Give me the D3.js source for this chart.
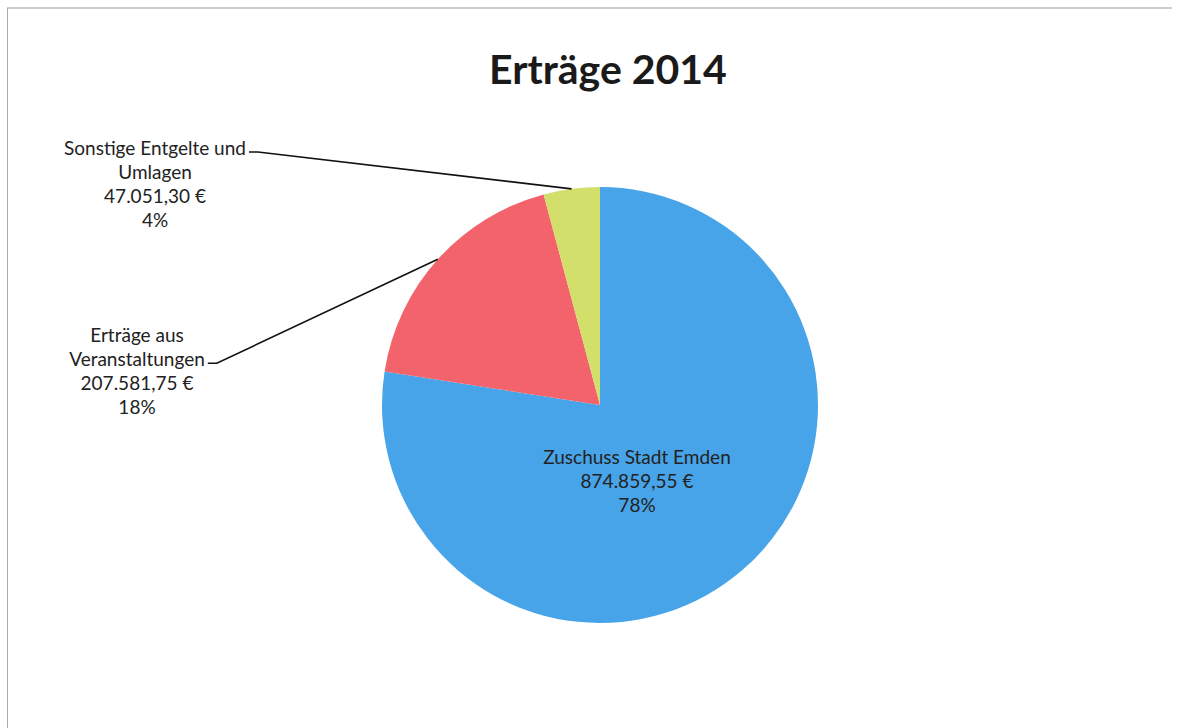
<!DOCTYPE html>
<html>
<head>
<meta charset="utf-8">
<script src="https://cdn.jsdelivr.net/npm/d3@7"></script>
<style>
  body { margin: 0; background: #fff; }
  svg { display: block; }
  .lbl { font-family: Lato, "Open Sans", sans-serif; font-size: 19px; fill: #222; }
</style>
</head>
<body>
<div id="chart"></div>
<script>
const categories = ['Zuschuss Stadt Emden', 'Erträge aus Veranstaltungen', 'Sonstige Entgelte und Umlagen'];
const labelLines = [
  ['Zuschuss Stadt Emden'],
  ['Erträge aus', 'Veranstaltungen'],
  ['Sonstige Entgelte und', 'Umlagen']
];
const values = [874859.55, 207581.75, 47051.30];
const valueLabels = ['874.859,55 €', '207.581,75 €', '47.051,30 €'];
const percentLabels = ['78%', '18%', '4%'];
const colors = ['#48a4e8', '#f2636c', '#d2df6b'];

const width = 1178;
const height = 728;
const cx = 600, cy = 405, radius = 218;

const svg = d3.select('#chart')
  .append('svg')
  .attr('width', width)
  .attr('height', height);

// scanned page frame (top + left edge only)
svg.append('line').attr('x1', 7).attr('x2', 1172).attr('y1', 8).attr('y2', 8)
  .attr('stroke', '#999').attr('stroke-width', 1.2);
svg.append('line').attr('x1', 7.5).attr('x2', 7.5).attr('y1', 8).attr('y2', height)
  .attr('stroke', '#aaa').attr('stroke-width', 1);

svg.append('text')
  .attr('x', 608)
  .attr('y', 84)
  .attr('text-anchor', 'middle')
  .style('font-family', 'Lato, "Open Sans", sans-serif')
  .style('font-weight', 'bold')
  .style('font-size', '41px')
  .style('fill', '#1a1a1a')
  .text('Erträge 2014');

const pie = d3.pie().sort(null).value((d) => d);
const arcs = pie(values);
const arc = d3.arc().innerRadius(0).outerRadius(radius);

const g = svg.append('g').attr('transform', `translate(${cx}, ${cy})`);

g.selectAll('path')
  .data(arcs)
  .join('path')
  .attr('d', arc)
  .attr('fill', (d, i) => colors[i]);

// label placement: text centre x, first line y (relative to pie centre), and which line gets the hook
const labelPos = [
  { dx: 37, dy: 52, hookLine: -1 },
  { dx: -463, dy: -70, hookLine: 1 },
  { dx: -445, dy: -257, hookLine: 0 }
];
const lineGap = 24.2;

arcs.forEach((a, i) => {
  const pos = labelPos[i];
  const lines = labelLines[i].concat([valueLabels[i], percentLabels[i]]);
  const t = g.append('g');
  const texts = t.selectAll('text')
    .data(lines)
    .join('text')
    .attr('class', 'lbl')
    .attr('x', pos.dx)
    .attr('y', (d, j) => pos.dy + j * lineGap)
    .attr('dy', '0.35em')
    .attr('text-anchor', 'middle')
    .text((d) => d);

  if (pos.hookLine >= 0) {
    const node = texts.nodes()[pos.hookLine];
    const bb = node.getBBox();
    const hx = bb.x + bb.width + 3;
    const hy = pos.dy + pos.hookLine * lineGap + 4;
    const mid = (a.startAngle + a.endAngle) / 2;
    const ex = Math.sin(mid) * radius;
    const ey = -Math.cos(mid) * radius;
    g.append('path')
      .attr('d', d3.line()([[hx, hy], [hx + 9, hy], [ex, ey]]))
      .attr('fill', 'none')
      .attr('stroke', '#111')
      .attr('stroke-width', 1.6);
  }
});
</script>
</body>
</html>
